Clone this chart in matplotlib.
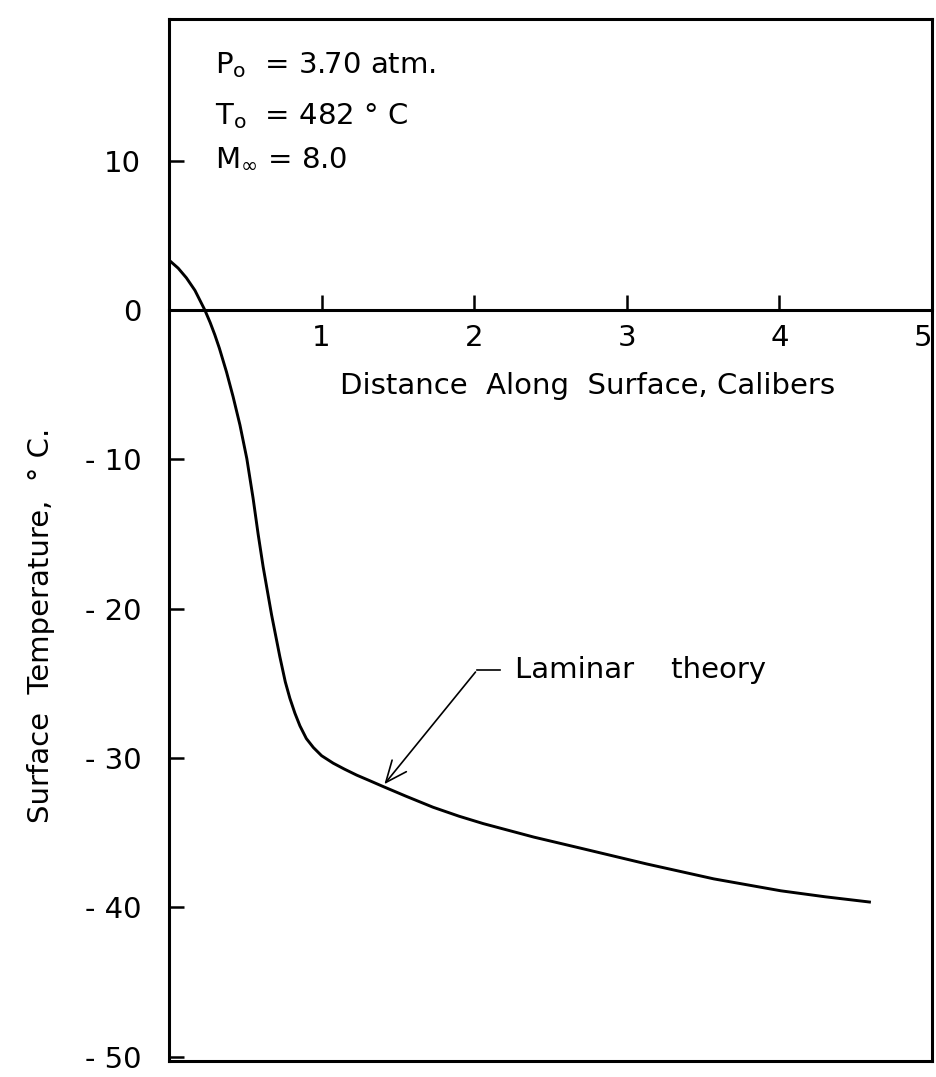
import matplotlib
matplotlib.use("Agg")
import matplotlib.pyplot as plt

# values (distance in calibers, surface temp in deg C)
dist = [0.0, 0.06, 0.114, 0.17, 0.235, 0.27, 0.30, 0.33, 0.377, 0.42,
        0.465, 0.51, 0.551, 0.584, 0.617, 0.672, 0.726, 0.762, 0.792, 0.825,
        0.858, 0.90, 0.946, 1.0, 1.076, 1.15, 1.23, 1.31, 1.40, 1.55,
        1.73, 1.90, 2.06, 2.39, 2.70, 3.13, 3.57, 4.01, 4.30, 4.59]
temp = [3.35, 2.81, 2.16, 1.32, 0.0, -0.84, -1.65, -2.55, -4.15, -5.8,
        -7.7, -9.95, -12.6, -15.0, -17.2, -20.4, -23.2, -24.9, -26.0, -27.0,
        -27.85, -28.7, -29.3, -29.85, -30.35, -30.75, -31.15, -31.5, -31.9, -32.55,
        -33.3, -33.9, -34.4, -35.3, -36.05, -37.1, -38.1, -38.9, -39.3, -39.65]

yticks = [10, 0, -10, -20, -30, -40, -50]
ylabels = ["10", "0", "- 10", "- 20", "- 30", "- 40", "- 50"]
xticks = [1, 2, 3, 4, 5]
xlabels = ["1", "2", "3", "4", "5"]

ylo, yhi = -50.3, 19.5
fs = 21

fig = plt.figure(figsize=(9.37, 10.77), dpi=100)
ax = fig.add_axes([169 / 937, 1 - 1061 / 1077, (932 - 169) / 937, (1061 - 19) / 1077])
ax.set_xlim(0, 5)
ax.set_ylim(ylo, yhi)

for s in ax.spines.values():
    s.set_linewidth(2.2)
# x axis runs along the zero line, keep a closed frame at the bottom
ax.spines["bottom"].set_position(("data", 0))
ax.axhline(ylo, color="black", lw=2.2, clip_on=False)

ax.plot(dist, temp, color="black", lw=2.1, solid_joinstyle="round")

# y axis
ax.set_yticks(yticks)
ax.set_yticklabels(ylabels)
ax.tick_params(axis="y", direction="in", length=11, width=1.8, pad=20, labelsize=fs)
ax.set_ylabel("Surface  Temperature,  \u00b0 C.", fontsize=fs)
ax.yaxis.set_label_coords(-0.149, 0.418)

# x axis
ax.set_xticks(xticks)
ax.set_xticklabels(xlabels)
ax.tick_params(axis="x", direction="in", length=11, width=1.8, pad=10, labelsize=fs)
ax.get_xticklabels()[-1].set_horizontalalignment("right")
ax.set_xlabel("Distance  Along  Surface, Calibers", fontsize=fs)
ax.xaxis.set_label_coords(0.549, 0.661)

# conditions
ax.text(0.3, 16.4, r"P$_\mathregular{o}$  = 3.70 atm.", fontsize=fs, va="center")
ax.text(0.3, 13.0, "T$_\\mathregular{o}$  = 482 \u00b0 C", fontsize=fs, va="center")
ax.text(0.3, 10.2, r"M$_\infty$ = 8.0", fontsize=fs, va="center")

# label with arrow
ax.annotate("", xy=(1.40, -31.9), xytext=(2.02, -24.1),
            arrowprops=dict(arrowstyle="->,head_length=0.7,head_width=0.3",
                            color="black", lw=1.2, mutation_scale=22))
ax.plot([2.02, 2.17], [-24.1, -24.1], color="black", lw=1.2)
ax.text(2.27, -24.1, "Laminar    theory", fontsize=fs, va="center")

fig.savefig("out.png", dpi=100)
